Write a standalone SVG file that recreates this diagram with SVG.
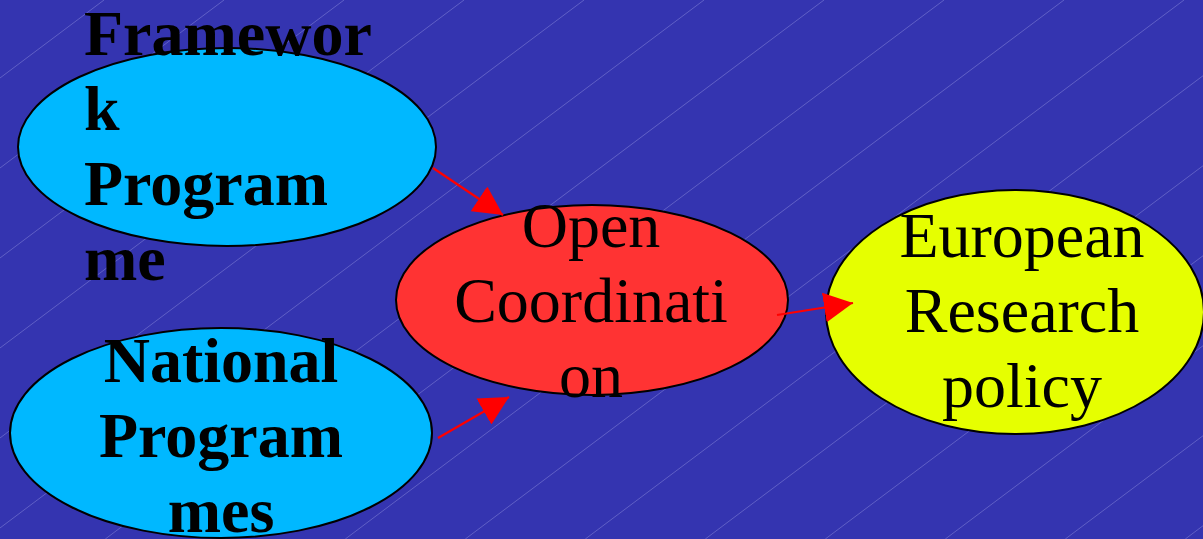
<svg xmlns="http://www.w3.org/2000/svg" width="1203" height="539" viewBox="0 0 1203 539">
  <style>
    .bg { fill: #3434b0; }
    .hatch line { stroke: #8c8cdc; stroke-width: 1; stroke-opacity: 0.5; }
    .node { stroke: #000; stroke-width: 2; }
    .blue { fill: #00b8ff; }
    .red { fill: #ff3333; }
    .yellow { fill: #e6ff00; }
    .bold { font-family: "Liberation Serif", "Times New Roman", serif; font-weight: bold; font-size: 64px; fill: #000; }
    .reg { font-family: "Liberation Serif", "Times New Roman", serif; font-size: 64px; fill: #000; text-anchor: middle; }
    .edge { stroke: #ff0000; stroke-width: 2.2; fill: none; marker-end: url(#head); }
  </style>
  <defs>
    <marker id="head" viewBox="0 0 29 30" refX="29" refY="15" markerWidth="29" markerHeight="30" markerUnits="userSpaceOnUse" orient="auto">
      <path d="M0,0 L29,15 L0,30 z" fill="#ff0000"/>
    </marker>
  </defs>

  <!-- backdrop with faint diagonal hatching -->
  <rect class="bg" x="0" y="0" width="1203" height="539"/>
  <g class="hatch">
    <line x1="104" y1="0" x2="-614.7" y2="539"/>
    <line x1="224" y1="0" x2="-494.7" y2="539"/>
    <line x1="344" y1="0" x2="-374.7" y2="539"/>
    <line x1="464" y1="0" x2="-254.7" y2="539"/>
    <line x1="584" y1="0" x2="-134.7" y2="539"/>
    <line x1="704" y1="0" x2="-14.7" y2="539"/>
    <line x1="824" y1="0" x2="105.3" y2="539"/>
    <line x1="944" y1="0" x2="225.3" y2="539"/>
    <line x1="1064" y1="0" x2="345.3" y2="539"/>
    <line x1="1184" y1="0" x2="465.3" y2="539"/>
    <line x1="1304" y1="0" x2="585.3" y2="539"/>
    <line x1="1424" y1="0" x2="705.3" y2="539"/>
    <line x1="1544" y1="0" x2="825.3" y2="539"/>
    <line x1="1664" y1="0" x2="945.3" y2="539"/>
    <line x1="1784" y1="0" x2="1065.3" y2="539"/>
    <line x1="1904" y1="0" x2="1185.3" y2="539"/>
  </g>

  <g id="framework">
    <ellipse class="node blue" cx="227" cy="147" rx="209" ry="99"/>
    <text class="bold"><tspan x="84" y="55">Framewor</tspan><tspan x="84" y="130">k</tspan><tspan x="84" y="205">Program</tspan><tspan x="84" y="280">me</tspan></text>
  </g>

  <g id="national">
    <ellipse class="node blue" cx="221" cy="433" rx="211" ry="105"/>
    <text class="bold" text-anchor="middle"><tspan x="221" y="382">National</tspan><tspan x="221" y="457">Program</tspan><tspan x="221" y="532">mes</tspan></text>
  </g>

  <g id="open-coordination">
    <ellipse class="node red" cx="592" cy="300" rx="196" ry="95"/>
    <text class="reg"><tspan x="591" y="247">Open</tspan><tspan x="591" y="322">Coordinati</tspan><tspan x="591" y="397">on</tspan></text>
  </g>

  <g id="european-research">
    <ellipse class="node yellow" cx="1015" cy="312" rx="189" ry="122"/>
    <text class="reg"><tspan x="1022" y="257">European</tspan><tspan x="1022" y="332">Research</tspan><tspan x="1022" y="407">policy</tspan></text>
  </g>

  <g id="connectors">
    <line class="edge" x1="433" y1="168" x2="503" y2="215"/>
    <line class="edge" x1="438" y1="438" x2="509" y2="397"/>
    <line class="edge" x1="777" y1="315" x2="853" y2="303"/>
  </g>
</svg>
